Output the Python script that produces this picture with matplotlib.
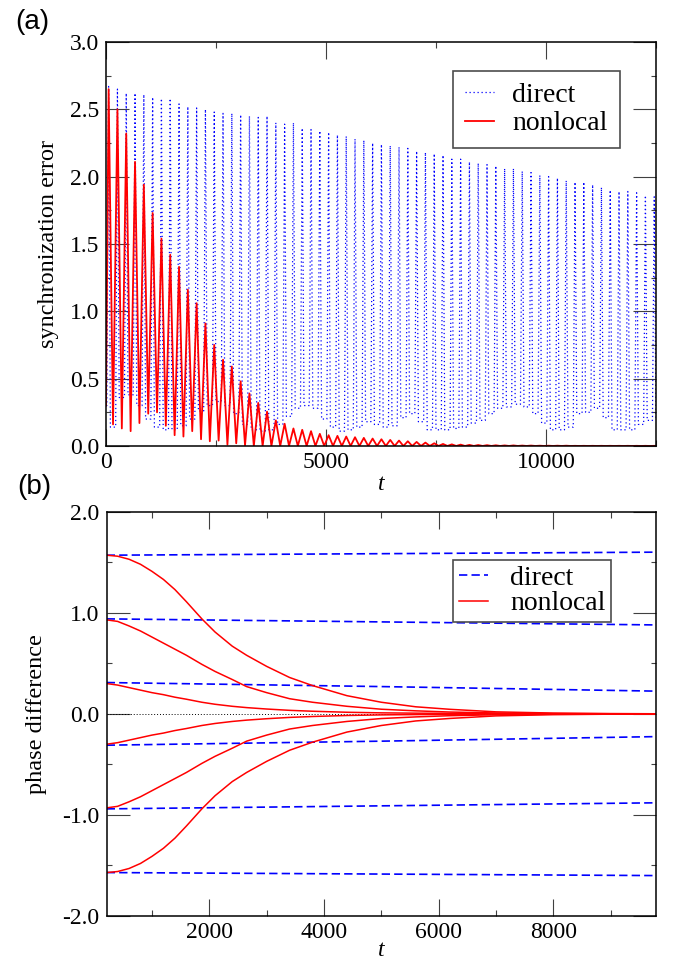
import numpy as np
import matplotlib
matplotlib.use('Agg')
import matplotlib.pyplot as plt
from matplotlib.ticker import MultipleLocator, FormatStrFormatter

plt.rcParams['font.family'] = ['Liberation Serif', 'DejaVu Serif']
plt.rcParams['axes.unicode_minus'] = False

# --- panel (a): synchronization error, read cycle by cycle (period ~200) ---
CYCLE = 200
start_err = 0.3

direct_peaks = [2.67, 2.65, 2.62, 2.62, 2.61, 2.59, 2.58, 2.58, 2.54, 2.52,
                2.51, 2.50, 2.48, 2.47, 2.47, 2.46, 2.45, 2.44, 2.45, 2.40,
                2.39, 2.40, 2.36, 2.35, 2.34, 2.33, 2.31, 2.30, 2.28, 2.27,
                2.25, 2.24, 2.23, 2.22, 2.21, 2.19, 2.18, 2.17, 2.16, 2.13,
                2.13, 2.11, 2.10, 2.09, 2.08, 2.06, 2.06, 2.04, 2.03, 2.01,
                2.00, 1.99, 1.97, 1.96, 1.96, 1.94, 1.92, 1.90, 1.89, 1.89,
                1.88, 1.86, 1.85]
direct_troughs = [0.14, 0.36, 0.38, 0.30, 0.20, 0.14, 0.12, 0.12, 0.15, 0.20,
                  0.26, 0.30, 0.33, 0.30, 0.24, 0.16, 0.12, 0.11, 0.12, 0.16,
                  0.22, 0.28, 0.30, 0.28, 0.20, 0.14, 0.11, 0.12, 0.14, 0.18,
                  0.16, 0.14, 0.15, 0.21, 0.24, 0.18, 0.12, 0.12, 0.12, 0.13,
                  0.14, 0.17, 0.19, 0.24, 0.28, 0.29, 0.31, 0.29, 0.24, 0.17,
                  0.12, 0.12, 0.14, 0.24, 0.25, 0.28, 0.21, 0.12, 0.12, 0.12,
                  0.16, 0.19, 0.21]
nonlocal_peaks = [2.65, 2.50, 2.32, 2.11, 1.94, 1.73, 1.54, 1.42, 1.33, 1.16,
                  1.06, 0.91, 0.75, 0.64, 0.59, 0.48, 0.39, 0.32, 0.255, 0.19,
                  0.165, 0.13, 0.12, 0.11, 0.09, 0.08, 0.075, 0.07, 0.065, 0.06,
                  0.055, 0.05, 0.045, 0.04, 0.035, 0.03, 0.025, 0.02, 0.015, 0.012,
                  0.010, 0.008, 0.007, 0.006, 0.005, 0.004, 0.004, 0.003, 0.003, 0.002,
                  0.002, 0.002, 0.002, 0.001, 0.001, 0.001, 0.001, 0.001, 0.001, 0.001,
                  0.001, 0.001, 0.001]
nonlocal_troughs = [0.16, 0.13, 0.11, 0.17, 0.24, 0.25, 0.15, 0.08, 0.07, 0.11,
                    0.05, 0.035, 0.04, 0.01, 0.02, 0.005, 0.0, 0.0, 0.0, 0.0,
                    0.0, 0.0, 0.0, 0.0, 0.0, 0.0, 0.0, 0.0, 0.0, 0.0,
                    0.0, 0.0, 0.0, 0.0, 0.0, 0.0, 0.0, 0.0, 0.0, 0.0,
                    0.0, 0.0, 0.0, 0.0, 0.0, 0.0, 0.0, 0.0, 0.0, 0.0,
                    0.0, 0.0, 0.0, 0.0, 0.0, 0.0, 0.0, 0.0, 0.0, 0.0,
                    0.0, 0.0, 0.0]

# --- panel (b): phase differences ---
t_dir = [210, 5000, 9790]
direct_phase = [
    [1.57, 1.585, 1.60],
    [0.94, 0.91, 0.88],
    [0.31, 0.27, 0.225],
    [-0.31, -0.27, -0.225],
    [-0.94, -0.91, -0.88],
    [-1.57, -1.585, -1.60],
]
t_nl = [210, 400, 600, 800, 1000, 1200, 1400, 1600, 1870, 2100, 2400, 2650,
        3000, 3400, 3800, 4400, 5000, 5600, 6200, 7000, 8000, 9000, 9790]
nonlocal_phase = [
    [1.57, 1.56, 1.53, 1.48, 1.41, 1.33, 1.23, 1.11, 0.94, 0.81, 0.67, 0.58,
     0.47, 0.36, 0.28, 0.18, 0.115, 0.07, 0.045, 0.02, 0.008, 0.003, 0.001],
    [0.93, 0.915, 0.87, 0.82, 0.76, 0.70, 0.64, 0.58, 0.49, 0.42, 0.34, 0.27,
     0.21, 0.15, 0.115, 0.075, 0.046, 0.03, 0.018, 0.009, 0.003, 0.001, 0.0],
    [0.30, 0.285, 0.26, 0.235, 0.21, 0.19, 0.165, 0.145, 0.115, 0.095, 0.075, 0.062,
     0.048, 0.035, 0.026, 0.016, 0.01, 0.007, 0.005, 0.002, 0.001, 0.0, 0.0],
    [-0.30, -0.285, -0.26, -0.235, -0.21, -0.19, -0.165, -0.145, -0.115, -0.095, -0.075, -0.062,
     -0.048, -0.035, -0.026, -0.016, -0.01, -0.007, -0.005, -0.002, -0.001, 0.0, 0.0],
    [-0.93, -0.915, -0.87, -0.82, -0.76, -0.70, -0.64, -0.58, -0.49, -0.42, -0.34, -0.27,
     -0.21, -0.15, -0.115, -0.075, -0.046, -0.03, -0.018, -0.009, -0.003, -0.001, 0.0],
    [-1.57, -1.56, -1.53, -1.48, -1.41, -1.33, -1.23, -1.11, -0.94, -0.81, -0.67, -0.58,
     -0.47, -0.36, -0.28, -0.18, -0.115, -0.07, -0.045, -0.02, -0.008, -0.003, -0.001],
]


def spike_series(peaks, troughs, start, rise=20, top=60, fall=100):
    # narrow spike per cycle, resting at the trough level in between
    k = np.arange(len(peaks)) * CYCLE
    before = np.r_[start, troughs[:-1]]
    t = np.column_stack([k + rise, k + top, k + fall]).ravel()
    v = np.column_stack([before, peaks, troughs]).ravel()
    return np.r_[0, t], np.r_[start, v]


def zigzag_series(peaks, troughs, start, top=60, low=160):
    # peak then trough, one pair per cycle
    k = np.arange(len(peaks)) * CYCLE
    t = np.column_stack([k + top, k + low]).ravel()
    v = np.column_stack([peaks, troughs]).ravel()
    return np.r_[0, t], np.r_[start, v]


def style_axes(ax):
    for s in ax.spines.values():
        s.set_linewidth(1.1)
    ax.tick_params(which='both', direction='in', top=True, right=True,
                   labelsize=17, width=0.8, color='0.25')
    ax.tick_params(axis='y', which='major', length=16.5, pad=5)
    ax.tick_params(axis='y', which='minor', length=3.5)
    ax.tick_params(axis='x', which='major', length=12, pad=4)
    ax.tick_params(axis='x', which='minor', length=4.5)


def add_legend(ax, anchor_y, spacing, bpad, textpad):
    leg = ax.legend(loc='upper left', bbox_to_anchor=(0.631, anchor_y), borderaxespad=0,
                    fontsize=20, handlelength=1.05, handletextpad=textpad,
                    labelspacing=spacing, borderpad=bpad, fancybox=False,
                    framealpha=1, edgecolor='0.3')
    leg.get_frame().set_linewidth(1.2)
    return leg


fig = plt.figure(figsize=(6.79, 9.63), dpi=100)
ax1 = fig.add_axes([0.1561, 0.5369, 0.8100, 0.4195])
ax2 = fig.add_axes([0.1571, 0.0488, 0.8090, 0.4198])

t_d, v_d = spike_series(direct_peaks, direct_troughs, start_err)
t_n, v_n = zigzag_series(nonlocal_peaks, nonlocal_troughs, start_err)
ax1.plot(t_d, v_d, color='#0000ff', linestyle=(0, (1, 2.2)), lw=0.9, label='direct')
ax1.plot(t_n, v_n, color='#ff0000', lw=1.3, label='nonlocal')
ax1.set_xlim(0, 12500)
ax1.set_ylim(0, 3.0)
ax1.xaxis.set_major_locator(MultipleLocator(5000))
ax1.xaxis.set_minor_locator(MultipleLocator(2500))
ax1.yaxis.set_major_locator(MultipleLocator(0.5))
ax1.yaxis.set_minor_locator(MultipleLocator(0.25))
ax1.yaxis.set_major_formatter(FormatStrFormatter('%.1f'))
style_axes(ax1)
ax1.set_xlabel('t', fontsize=17, style='italic', labelpad=1)
ax1.set_ylabel('synchronization error', fontsize=17.5)
ax1.yaxis.set_label_coords(-0.086, 0.5)
add_legend(ax1, 0.929, 0.1, 0.43, 0.65)

ax2.axhline(0, color='black', lw=0.7, linestyle=(0, (1, 2)))
for i, row in enumerate(direct_phase):
    ax2.plot(t_dir, row, color='#0000ff', lw=1.2, linestyle=(0, (5, 2.5)),
             label='direct' if i == 0 else None)
for i, row in enumerate(nonlocal_phase):
    ax2.plot(t_nl, row, color='#ff0000', lw=1.1,
             label='nonlocal' if i == 0 else None)
ax2.set_xlim(210, 9790)
ax2.set_ylim(-2.0, 2.0)
ax2.xaxis.set_major_locator(MultipleLocator(2000))
ax2.xaxis.set_minor_locator(MultipleLocator(1000))
ax2.yaxis.set_major_locator(MultipleLocator(1.0))
ax2.yaxis.set_minor_locator(MultipleLocator(0.5))
ax2.yaxis.set_major_formatter(FormatStrFormatter('%.1f'))
style_axes(ax2)
ax2.set_xlabel('t', fontsize=17, style='italic', labelpad=-2)
ax2.set_ylabel('phase difference', fontsize=17.5)
ax2.yaxis.set_label_coords(-0.108, 0.5)
add_legend(ax2, 0.8805, 0.0, 0.2, 0.8)

fig.text(0.022, 0.977, '(a)', fontsize=20, family='Liberation Sans', va='center')
fig.text(0.025, 0.494, '(b)', fontsize=20, family='Liberation Sans', va='center')

fig.savefig('out.png', dpi=100)
